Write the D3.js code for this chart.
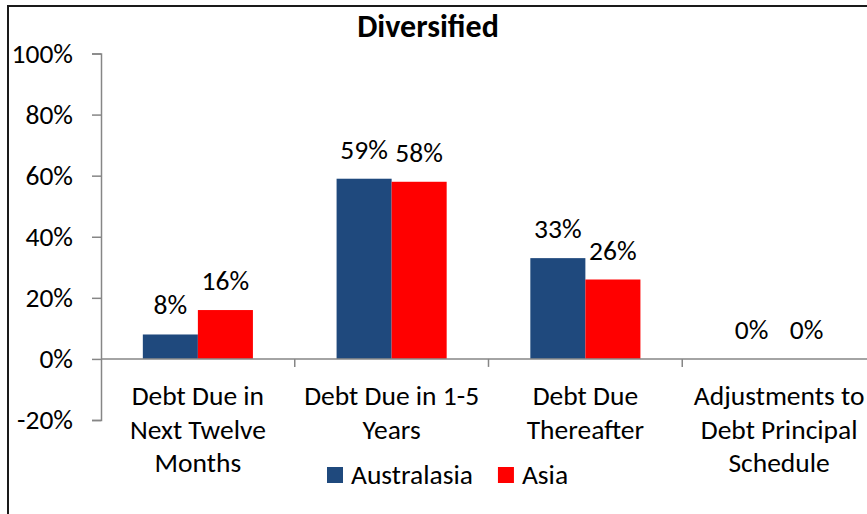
<!DOCTYPE html>
<html>
<head>
<meta charset="utf-8">
<script src="https://cdn.jsdelivr.net/npm/d3@7"></script>
<style>
  body { margin: 0; background: #fff; }
  text { font-family: Carlito, Calibri, Lato, sans-serif; fill: #000; }
</style>
</head>
<body>
<div id="chart"></div>
<script>
// data
const categories = ["Debt Due in Next Twelve Months", "Debt Due in 1-5 Years", "Debt Due Thereafter", "Adjustments to Debt Principal Schedule"];
const categoryLines = [
  ["Debt Due in", "Next Twelve", "Months"],
  ["Debt Due in 1-5", "Years"],
  ["Debt Due", "Thereafter"],
  ["Adjustments to", "Debt Principal", "Schedule"]
];
const seriesNames = ["Australasia", "Asia"];
const australasia = [8, 59, 33, 0];
const asia = [16, 58, 26, 0];
const yTicks = [-20, 0, 20, 40, 60, 80, 100];
const colors = ["#1F497D", "#FF0000"];

const width = 867, height = 514;
const plot = { left: 101, right: 876, top: 53.5, bottom: 420 };
const fs = 27.5;

const svg = d3.select("#chart").append("svg")
    .attr("width", width)
    .attr("height", height);

// chart border (cropped on right / bottom)
svg.append("rect")
    .attr("x", 8).attr("y", 6)
    .attr("width", 900).attr("height", 540)
    .attr("fill", "none")
    .attr("stroke", "#1a1a1a")
    .attr("stroke-width", 2);

const x = d3.scaleBand()
    .domain(categories)
    .range([plot.left, plot.right]);

const xs = d3.scaleBand()
    .domain(seriesNames)
    .range([0, x.bandwidth()])
    .paddingOuter(0.76);

const y = d3.scaleLinear()
    .domain([-20, 100])
    .range([plot.bottom, plot.top]);

const rows = categories.map((c, i) => ({
  cat: c,
  vals: [
    { name: seriesNames[0], v: australasia[i] },
    { name: seriesNames[1], v: asia[i] }
  ]
}));

// y axis
const yAxis = svg.append("g")
    .attr("transform", `translate(${plot.left},0)`)
    .call(d3.axisLeft(y).tickValues(yTicks).tickSize(9).tickPadding(19).tickFormat(d => d + "%"));
yAxis.select(".domain").attr("stroke", "#868686").attr("stroke-width", 1.5);
yAxis.selectAll(".tick line").attr("stroke", "#868686").attr("stroke-width", 1.5);
yAxis.selectAll(".tick text")
    .attr("font-size", fs)
    .attr("font-family", null)
    .attr("fill", "#000");

// bars
const groups = svg.append("g").selectAll("g")
    .data(rows)
    .join("g")
    .attr("transform", d => `translate(${x(d.cat)},0)`);

groups.selectAll("rect")
    .data(d => d.vals)
    .join("rect")
    .attr("x", d => xs(d.name))
    .attr("width", xs.bandwidth())
    .attr("y", d => y(Math.max(0, d.v)))
    .attr("height", d => Math.abs(y(d.v) - y(0)))
    .attr("fill", (d, i) => colors[i]);

groups.selectAll("text.lbl")
    .data(d => d.vals)
    .join("text")
    .attr("class", "lbl")
    .attr("x", d => xs(d.name) + xs.bandwidth() / 2)
    .attr("y", d => y(Math.max(0, d.v)) - 20)
    .attr("text-anchor", "middle")
    .attr("font-size", fs)
    .text(d => d.v + "%");

// x axis at zero
const xg = svg.append("g");
xg.append("line")
    .attr("x1", plot.left).attr("x2", plot.right)
    .attr("y1", y(0)).attr("y2", y(0))
    .attr("stroke", "#868686").attr("stroke-width", 1.5);
xg.selectAll("line.tick")
    .data(categories.slice(1))
    .join("line")
    .attr("class", "tick")
    .attr("x1", d => x(d)).attr("x2", d => x(d))
    .attr("y1", y(0)).attr("y2", y(0) + 8)
    .attr("stroke", "#868686").attr("stroke-width", 1.5);

// category labels
const catLabels = xg.selectAll("text")
    .data(categories)
    .join("text")
    .attr("x", d => x(d) + x.bandwidth() / 2)
    .attr("y", 405)
    .attr("text-anchor", "middle")
    .attr("font-size", fs);
catLabels.each(function(d, i) {
  d3.select(this).selectAll("tspan")
    .data(categoryLines[i])
    .join("tspan")
    .attr("x", x(d) + x.bandwidth() / 2)
    .attr("dy", (t, j) => j === 0 ? 0 : 33.5)
    .text(t => t);
});

// title
svg.append("text")
    .attr("x", 428)
    .attr("y", 37)
    .attr("text-anchor", "middle")
    .attr("font-size", 32)
    .attr("font-weight", "bold")
    .text("Diversified");

// legend
const legend = svg.append("g").attr("transform", "translate(327,467)");
let lx = 0;
seriesNames.forEach((name, i) => {
  const item = legend.append("g").attr("transform", `translate(${lx},0)`);
  item.append("rect")
      .attr("width", 16).attr("height", 16)
      .attr("fill", colors[i]);
  const t = item.append("text")
      .attr("x", 24)
      .attr("y", 16.5)
      .attr("font-size", fs)
      .text(name);
  lx += 24 + t.node().getComputedTextLength() + 25;
});
</script>
</body>
</html>
